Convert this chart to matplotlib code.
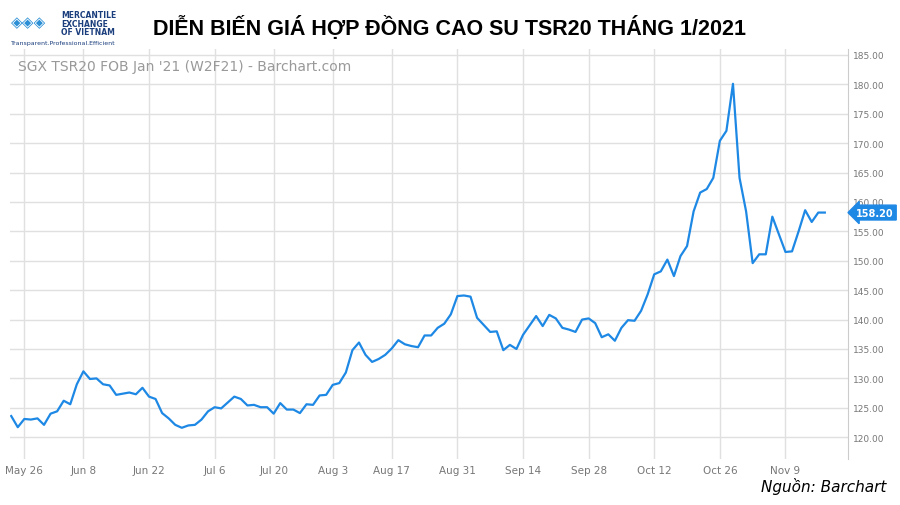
import matplotlib.pyplot as plt
import pandas as pd
import numpy as np

# prices, one per trading day
prices = [123.6, 121.7, 123.1, 123.0, 123.2, 122.1, 124.0, 124.4, 126.2, 125.6,
          129.0, 131.2, 129.9, 130.0, 129.0, 128.8, 127.2, 127.4, 127.6, 127.3,
          128.4, 126.9, 126.5, 124.1, 123.2, 122.1, 121.6, 122.0, 122.1, 123.0,
          124.4, 125.1, 124.9, 125.9, 126.9, 126.5, 125.4, 125.5, 125.1, 125.1,
          124.0, 125.8, 124.7, 124.7, 124.1, 125.6, 125.5, 127.1, 127.2, 128.9,
          129.2, 131.0, 134.8, 136.1, 134.0, 132.8, 133.3, 134.0, 135.1, 136.5,
          135.8, 135.5, 135.3,
          137.3, 137.3, 138.6, 139.3, 140.9, 144.0, 144.1, 143.9, 140.3, 139.1,
          137.9, 138.0, 134.8, 135.7, 135.0, 137.4, 139.0, 140.6, 138.9, 140.8,
          140.2, 138.6, 138.3, 137.9, 140.0, 140.2, 139.4, 137.0, 137.5, 136.4,
          138.6, 139.9, 139.8, 141.5, 144.3, 147.7, 148.2, 150.2, 147.4, 150.8,
          152.5, 158.4, 161.6, 162.2, 164.1, 170.4, 172.1, 180.1, 164.1, 158.4,
          149.6, 151.1, 151.1, 157.5, 154.5, 151.5, 151.6, 155.0, 158.6, 156.6,
          158.2, 158.2]
# Singapore exchange holidays in the period
holidays = ["2020-05-25", "2020-07-10", "2020-07-31", "2020-08-10"]
trading_days = pd.offsets.CustomBusinessDay(holidays=holidays)
dates = pd.date_range("2020-05-21", periods=len(prices), freq=trading_days)
tick_dates = ["2020-05-26", "2020-06-08", "2020-06-22", "2020-07-06", "2020-07-20",
              "2020-08-03", "2020-08-17", "2020-08-31", "2020-09-14", "2020-09-28",
              "2020-10-12", "2020-10-26", "2020-11-09"]
tick_labels = ["May 26", "Jun 8", "Jun 22", "Jul 6", "Jul 20", "Aug 3", "Aug 17",
               "Aug 31", "Sep 14", "Sep 28", "Oct 12", "Oct 26", "Nov 9"]
y_ticks = np.arange(120, 186, 5)

idx = np.arange(len(prices))
tick_pos = [dates.get_loc(pd.Timestamp(d)) for d in tick_dates]

fig = plt.figure(figsize=(9, 5.06), dpi=100)
ax = fig.add_axes([0.011, 0.091, 0.931, 0.81])
blue = "#1e88e5"
ax.plot(idx, prices, color=blue, lw=1.6)
ax.set_xlim(-0.2, len(prices) + 2.5)
ax.set_ylim(116.3, 186)
ax.set_xticks(tick_pos)
ax.set_xticklabels(tick_labels, fontsize=7.5, color="#777777")
ax.set_yticks(y_ticks)
ax.set_yticklabels([f"{v:.2f}" for v in y_ticks], fontsize=6.5, color="#777777")
ax.yaxis.tick_right()
ax.tick_params(length=0, pad=4)
ax.grid(True, color="#e0e0e0", lw=1)
for s in ["top", "left", "bottom"]:
    ax.spines[s].set_visible(False)
ax.spines["right"].set_color("#cccccc")

ax.text(0.01, 0.975, "SGX TSR20 FOB Jan '21 (W2F21) - Barchart.com", transform=ax.transAxes,
        fontsize=10, color="#999999", va="top")
ax.annotate(f"{prices[-1]:.2f}", xy=(1.0, prices[-1]), xycoords=("axes fraction", "data"),
            xytext=(6, 0), textcoords="offset points", fontsize=7, color="white",
            fontweight="bold", va="center",
            bbox=dict(boxstyle="larrow,pad=0.25", fc=blue, ec=blue))

fig.text(0.499, 0.945, "DIỄN BIẾN GIÁ HỢP ĐỒNG CAO SU TSR20 THÁNG 1/2021", ha="center",
         va="center", fontsize=15.5, fontweight="bold", family="Liberation Sans")
fig.text(0.068, 0.978, "MERCANTILE\nEXCHANGE\nOF VIETNAM", fontsize=5.5, color="#1a3d7c",
         va="top", linespacing=0.95, fontweight="bold")
fig.text(0.012, 0.912, "Transparent.Professional.Efficient", fontsize=4.5, color="#1a3d7c")
fig.text(0.012, 0.955, "◈◈◈", fontsize=11, color="#2b8fd6", va="center")
fig.text(0.985, 0.027, "Nguồn: Barchart", ha="right", fontsize=11, style="italic")
fig.savefig("out.png", dpi=100)
